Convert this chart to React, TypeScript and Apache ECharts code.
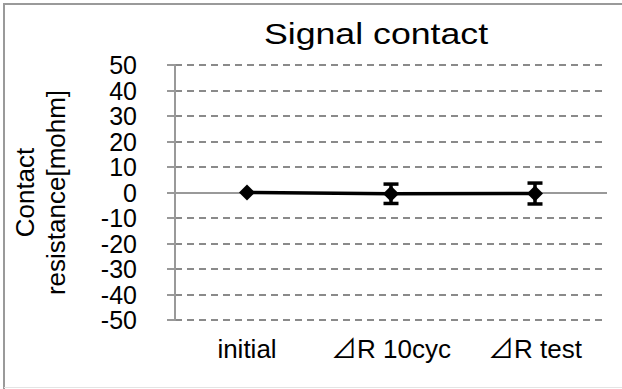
import React, { useEffect, useRef } from "react";
import * as echarts from "echarts";

const categories = ["initial", "⊿R 10cyc", "⊿R test"];
const meanValues = [0, -0.5, -0.4];
const errorLow = [null, -4.3, -4.5];
const errorHigh = [null, 3.3, 3.7];
const yMin = -50;
const yMax = 50;
const yStep = 10;

const FONT = "'Liberation Sans', Arial, 'Noto Sans CJK JP', sans-serif";

export default function App() {
  const ref = useRef<HTMLDivElement | null>(null);

  useEffect(() => {
    document.body.style.margin = "0";
    if (!ref.current) return;
    const chart = echarts.init(ref.current, undefined, { renderer: "svg" });

    const errorData = categories
      .map((_, i) => [i, errorLow[i], errorHigh[i]])
      .filter((d) => d[1] !== null && d[2] !== null);

    chart.setOption({
      animation: false,
      backgroundColor: "#ffffff",
      textStyle: { fontFamily: FONT },
      grid: {
        left: 175,
        right: 15,
        top: 65,
        bottom: 69,
        containLabel: false,
        outerBoundsMode: "none",
      },
      graphic: [
        {
          type: "line",
          shape: { x1: 4, y1: 3, x2: 4, y2: 389 },
          style: { stroke: "#9a9a9a", lineWidth: 2 },
          silent: true,
        },
        {
          type: "line",
          shape: { x1: 3, y1: 4, x2: 622, y2: 4 },
          style: { stroke: "#9a9a9a", lineWidth: 2 },
          silent: true,
        },
        {
          type: "line",
          shape: { x1: 4, y1: 387.5, x2: 622, y2: 387.5 },
          style: { stroke: "#e4e4e4", lineWidth: 1 },
          silent: true,
        },
        {
          type: "text",
          x: 376,
          y: 34,
          scaleX: 1.19,
          style: {
            text: "Signal contact",
            fontFamily: FONT,
            fontSize: 30,
            fill: "#000000",
            align: "center",
            verticalAlign: "middle",
          },
          silent: true,
        },
      ],
      xAxis: {
        type: "category",
        data: categories,
        boundaryGap: true,
        axisLine: { show: false },
        axisTick: { show: false },
        splitLine: { show: false },
        axisLabel: {
          color: "#000000",
          fontSize: 26,
          fontFamily: FONT,
          margin: 16,
          interval: 0,
        },
      },
      yAxis: {
        type: "value",
        min: yMin,
        max: yMax,
        interval: yStep,
        name: "Contact\nresistance[mohm]",
        nameLocation: "middle",
        nameRotate: 90,
        nameGap: 104,
        nameMoveOverlap: false,
        nameTextStyle: {
          color: "#000000",
          fontSize: 26,
          fontFamily: FONT,
          lineHeight: 31,
        },
        axisLine: { show: true, lineStyle: { color: "#999999", width: 2 } },
        axisTick: { show: true, inside: false, length: 8, lineStyle: { color: "#999999", width: 2 } },
        axisLabel: {
          color: "#000000",
          fontSize: 25,
          lineHeight: 20,
          fontFamily: FONT,
          margin: 38,
          showMinLabel: true,
          showMaxLabel: true,
          hideOverlap: false,
        },
        splitLine: {
          show: true,
          lineStyle: { color: "#8a8a8a", width: 2, type: [7, 5] },
        },
      },
      series: [
        {
          type: "line",
          data: meanValues,
          symbol: "diamond",
          symbolSize: 16,
          lineStyle: { color: "#000000", width: 3.5 },
          itemStyle: { color: "#000000" },
          z: 5,
          markLine: {
            silent: true,
            symbol: "none",
            label: { show: false },
            lineStyle: { color: "#999999", width: 2, type: "solid" },
            data: [{ yAxis: 0 }],
            z: 1,
          },
        },
        {
          type: "custom",
          data: errorData,
          z: 6,
          renderItem: (params: any, api: any) => {
            const x = api.value(0);
            const lo = api.coord([x, api.value(1)]);
            const hi = api.coord([x, api.value(2)]);
            const half = 7.5;
            const style = { stroke: "#000000", lineWidth: 3.5 };
            return {
              type: "group",
              children: [
                { type: "line", shape: { x1: lo[0], y1: lo[1], x2: hi[0], y2: hi[1] }, style },
                { type: "line", shape: { x1: lo[0] - half, y1: lo[1], x2: lo[0] + half, y2: lo[1] }, style },
                { type: "line", shape: { x1: hi[0] - half, y1: hi[1], x2: hi[0] + half, y2: hi[1] }, style },
              ],
            };
          },
        },
      ],
    });

    return () => chart.dispose();
  }, []);

  return <div ref={ref} style={{ width: 622, height: 389 }} />;
}
